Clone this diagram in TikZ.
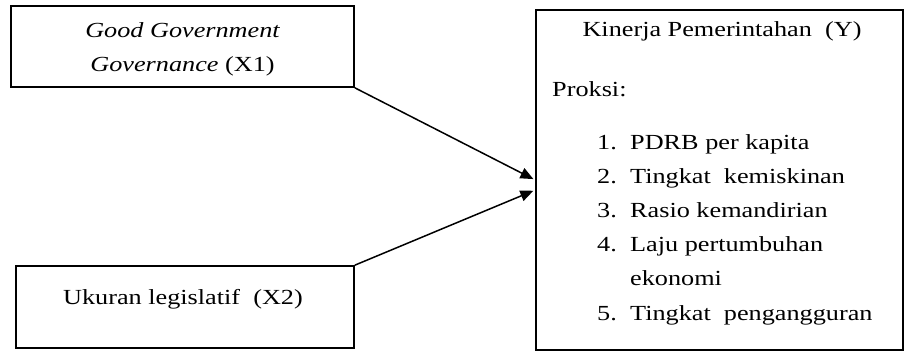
\documentclass[tikz,border=0pt]{standalone}
\usepackage{fontspec}
\setmainfont[FakeStretch=1.22]{Liberation Serif}
\usetikzlibrary{arrows.meta}
\begin{document}
\begin{tikzpicture}[x=1pt,y=-1pt,
  box/.style={draw,line width=1.6pt,rectangle,inner sep=0pt},
  txt/.style={inner sep=0pt,font=\fontsize{21.5}{25}\selectfont},
  conn/.style={line width=1.5pt,-{Triangle[length=13pt,width=11pt]},shorten >=2pt}]
\useasboundingbox (0,0) rectangle (904,352);
\node[box,minimum width=343pt,minimum height=81pt] (b1) at (182.5,46.5) {};
\node[box,minimum width=338pt,minimum height=82pt] (b2) at (185,307) {};
\node[box,minimum width=367pt,minimum height=340pt] (y) at (719.5,180) {};
\node[txt,anchor=base] (t1a) at (182.5,38) {\itshape Good Government};
\node[txt,anchor=base] (t1b) at (182.5,72) {\itshape Governance\/ \upshape(X1)};
\node[txt,anchor=base] (t2) at (183,305) {Ukuran legislatif \ (X2)};
\node[txt,anchor=base] (ty) at (722,37) {Kinerja Pemerintahan \ (Y)};
\node[txt,anchor=base west] (pr) at (552,97) {Proksi:};
\node[txt,anchor=base west] (n1) at (597,150) {1.};
\node[txt,anchor=base west] (i1) at (630,150) {PDRB per kapita};
\node[txt,anchor=base west] (n2) at (597,184) {2.};
\node[txt,anchor=base west] (i2) at (630,184) {Tingkat \ kemiskinan};
\node[txt,anchor=base west] (n3) at (597,218) {3.};
\node[txt,anchor=base west] (i3) at (630,218) {Rasio kemandirian};
\node[txt,anchor=base west] (n4) at (597,252) {4.};
\node[txt,anchor=base west] (i4) at (630,252) {Laju pertumbuhan};
\node[txt,anchor=base west] (i4b) at (630,286) {ekonomi};
\node[txt,anchor=base west] (n5) at (597,320) {5.};
\node[txt,anchor=base west] (i5) at (630,320) {Tingkat \ pengangguran};
\draw[conn] (b1.south east) -- (y.west);
\draw[conn] (b2.north east) -- ([yshift=-10pt]y.west);
\end{tikzpicture}
\end{document}
